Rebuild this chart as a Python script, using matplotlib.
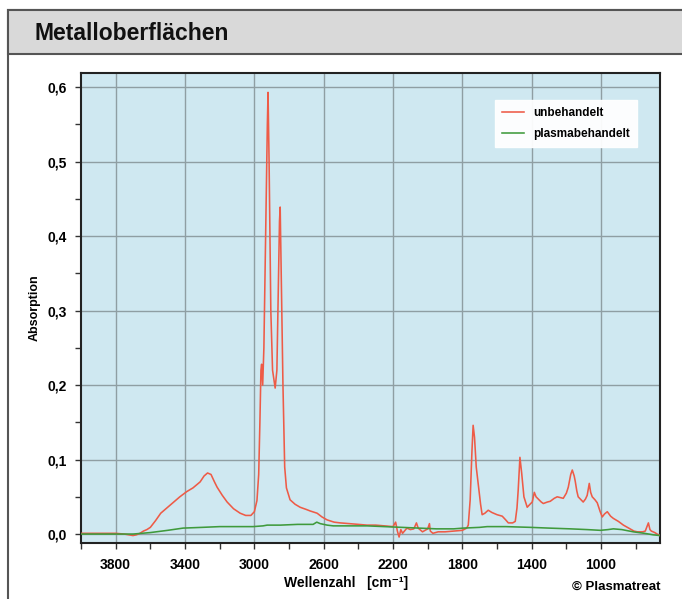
import matplotlib
matplotlib.use('Agg')
import matplotlib.pyplot as plt
from matplotlib.patches import Rectangle
from matplotlib.ticker import MultipleLocator, FuncFormatter
from matplotlib import font_manager

# --- Data ---
red_wn = [4000, 3900, 3800, 3750, 3700, 3680, 3660, 3640, 3620, 3600, 3570, 3540, 3500,
          3460, 3430, 3390, 3354, 3313, 3290, 3270, 3250, 3230, 3215, 3185, 3157, 3120,
          3082, 3050, 3020, 3000, 2985, 2975, 2968, 2962, 2958, 2952, 2945, 2935, 2925,
          2921, 2915, 2905, 2895, 2880, 2870, 2862, 2855, 2851, 2845, 2835, 2825, 2815,
          2794, 2765, 2736, 2700, 2678, 2638, 2610, 2580, 2540, 2505, 2450, 2400, 2350,
          2300, 2250, 2200, 2185, 2175, 2165, 2155, 2145, 2120, 2100, 2080, 2065, 2055,
          2040, 2030, 2000, 1990, 1985, 1970, 1940, 1900, 1850, 1800, 1775, 1766, 1755,
          1745, 1738, 1730, 1720, 1709, 1695, 1686, 1670, 1651, 1630, 1600, 1570, 1550,
          1535, 1510, 1495, 1485, 1478, 1468, 1458, 1445, 1426, 1410, 1397, 1385, 1375,
          1362, 1345, 1333, 1310, 1293, 1270, 1253, 1235, 1218, 1200, 1189, 1175, 1166,
          1155, 1149, 1140, 1132, 1115, 1103, 1090, 1080, 1068, 1060, 1051, 1035, 1022,
          1005, 993, 980, 964, 945, 929, 900, 871, 840, 810, 791, 760, 745, 735, 727,
          718, 710, 690, 670, 660]
red_abs = [0.001, 0.001, 0.001, 0.000, -0.002, -0.001, 0.001, 0.004, 0.006, 0.009, 0.018,
           0.028, 0.036, 0.044, 0.050, 0.057, 0.062, 0.070, 0.078, 0.082, 0.080, 0.070,
           0.063, 0.052, 0.043, 0.034, 0.028, 0.025, 0.025, 0.030, 0.045, 0.080, 0.150,
           0.220, 0.228, 0.200, 0.250, 0.400, 0.550, 0.593, 0.500, 0.300, 0.220, 0.196,
           0.220, 0.330, 0.420, 0.439, 0.350, 0.200, 0.090, 0.062, 0.046, 0.040, 0.036,
           0.033, 0.031, 0.028, 0.023, 0.019, 0.016, 0.015, 0.014, 0.013, 0.012, 0.012,
           0.011, 0.010, 0.016, 0.004, -0.004, 0.006, 0.001, 0.008, 0.006, 0.007, 0.015,
           0.008, 0.005, 0.003, 0.007, 0.014, 0.004, 0.001, 0.003, 0.003, 0.004, 0.005,
           0.008, 0.012, 0.046, 0.110, 0.146, 0.130, 0.090, 0.068, 0.040, 0.026, 0.028,
           0.032, 0.029, 0.026, 0.024, 0.019, 0.015, 0.015, 0.017, 0.035, 0.059, 0.103,
           0.082, 0.050, 0.036, 0.040, 0.043, 0.056, 0.050, 0.047, 0.043, 0.041, 0.043,
           0.044, 0.048, 0.050, 0.049, 0.048, 0.055, 0.063, 0.080, 0.086, 0.078, 0.071,
           0.058, 0.050, 0.046, 0.043, 0.047, 0.052, 0.068, 0.056, 0.050, 0.046, 0.042,
           0.030, 0.023, 0.027, 0.030, 0.024, 0.021, 0.017, 0.012, 0.008, 0.004, 0.003,
           0.003, 0.004, 0.010, 0.015, 0.006, 0.004, 0.002, -0.001, -0.002]

green_wn = [4000, 3800, 3700, 3650, 3600, 3500, 3411, 3300, 3200, 3100, 3007, 2950, 2926,
            2850, 2750, 2661, 2640, 2620, 2580, 2545, 2450, 2350, 2250, 2150, 2050, 1950,
            1850, 1795, 1700, 1657, 1550, 1408, 1300, 1178, 1080, 1004, 960, 929, 880,
            814, 750, 700, 660]
green_abs = [0.000, 0.000, 0.000, 0.001, 0.002, 0.005, 0.008, 0.009, 0.010, 0.010, 0.010,
             0.011, 0.012, 0.012, 0.013, 0.013, 0.016, 0.014, 0.012, 0.011, 0.011, 0.011,
             0.010, 0.009, 0.008, 0.007, 0.007, 0.008, 0.009, 0.010, 0.010, 0.009, 0.008,
             0.007, 0.006, 0.005, 0.006, 0.007, 0.006, 0.003, 0.001, -0.001, -0.002]

x_major = [3800, 3400, 3000, 2600, 2200, 1800, 1400, 1000]
series_labels = ['unbehandelt', 'plasmabehandelt']

# --- Fonts ---
installed = {f.name for f in font_manager.fontManager.ttflist}
fam = [f for f in ['Liberation Sans Narrow', 'Liberation Sans', 'DejaVu Sans'] if f in installed]
plt.rcParams['font.family'] = fam
plt.rcParams['font.weight'] = 'bold'

W, H = 682, 599
fig = plt.figure(figsize=(W / 100, H / 100), dpi=100)

def px(x, y):
    return x / W, 1 - y / H

# outer frame and title band (drawn behind the axes)
frame = Rectangle(px(8, 700), 700 / W, 690 / H, transform=fig.transFigure,
                  facecolor='none', edgecolor='#555555', linewidth=1.5, zorder=-2)
fig.patches.append(frame)
band = Rectangle(px(8, 54), 700 / W, 44 / H, transform=fig.transFigure,
                 facecolor='#d9d9d9', edgecolor='#555555', linewidth=1.5, zorder=-1)
fig.patches.append(band)
fig.text(*px(34, 33), 'Metalloberflächen', fontsize=16.5, fontweight='bold',
         va='center', ha='left', color='#111111')

ax = fig.add_axes([81 / W, 1 - 543 / H, (660 - 81) / W, (543 - 73) / H])
ax.set_zorder(2)
ax.set_facecolor('#cfe8f1')

ax.plot(red_wn, red_abs, color='#ee5b47', linewidth=1.15, label=series_labels[0], zorder=3)
ax.plot(green_wn, green_abs, color='#3f9a3c', linewidth=1.15, label=series_labels[1], zorder=3)

ax.set_xlim(4000, 660)
ax.set_ylim(-0.012, 0.619)

ax.set_xticks(x_major)
ax.xaxis.set_minor_locator(MultipleLocator(200))
ax.yaxis.set_major_locator(MultipleLocator(0.1))
ax.yaxis.set_minor_locator(MultipleLocator(0.05))
ax.yaxis.set_major_formatter(FuncFormatter(lambda v, p: f'{v:.1f}'.replace('.', ',')))

ax.grid(True, which='major', color='#8f9ea3', linewidth=1.0, zorder=1)
ax.set_axisbelow(True)
for s in ax.spines.values():
    s.set_color('#222222')
    s.set_linewidth(1.5)
ax.tick_params(which='both', direction='out', length=4, width=1, color='#333333',
               labelsize=10, pad=6)
ax.tick_params(axis='x', pad=7)
for lab in ax.get_xticklabels() + ax.get_yticklabels():
    lab.set_fontweight('bold')

ax.set_ylabel('Absorption', fontsize=9, fontweight='bold', labelpad=5)
fig.text(*px(346, 583), 'Wellenzahl   [cm\u207b\u00b9]', fontsize=10, fontweight='bold',
         ha='center', va='center')
fig.text(*px(660, 587), '© Plasmatreat', fontsize=9.5, fontweight='bold',
         ha='right', va='center')

leg = ax.legend(loc='upper right', bbox_to_anchor=(0.96, 0.943), borderaxespad=0,
                fontsize=8.5, frameon=True, fancybox=False, handlelength=1.8,
                borderpad=0.6, labelspacing=0.8, edgecolor='white')
leg.get_frame().set_facecolor('white')
leg.get_frame().set_alpha(0.95)

fig.savefig('out.png', dpi=100)
